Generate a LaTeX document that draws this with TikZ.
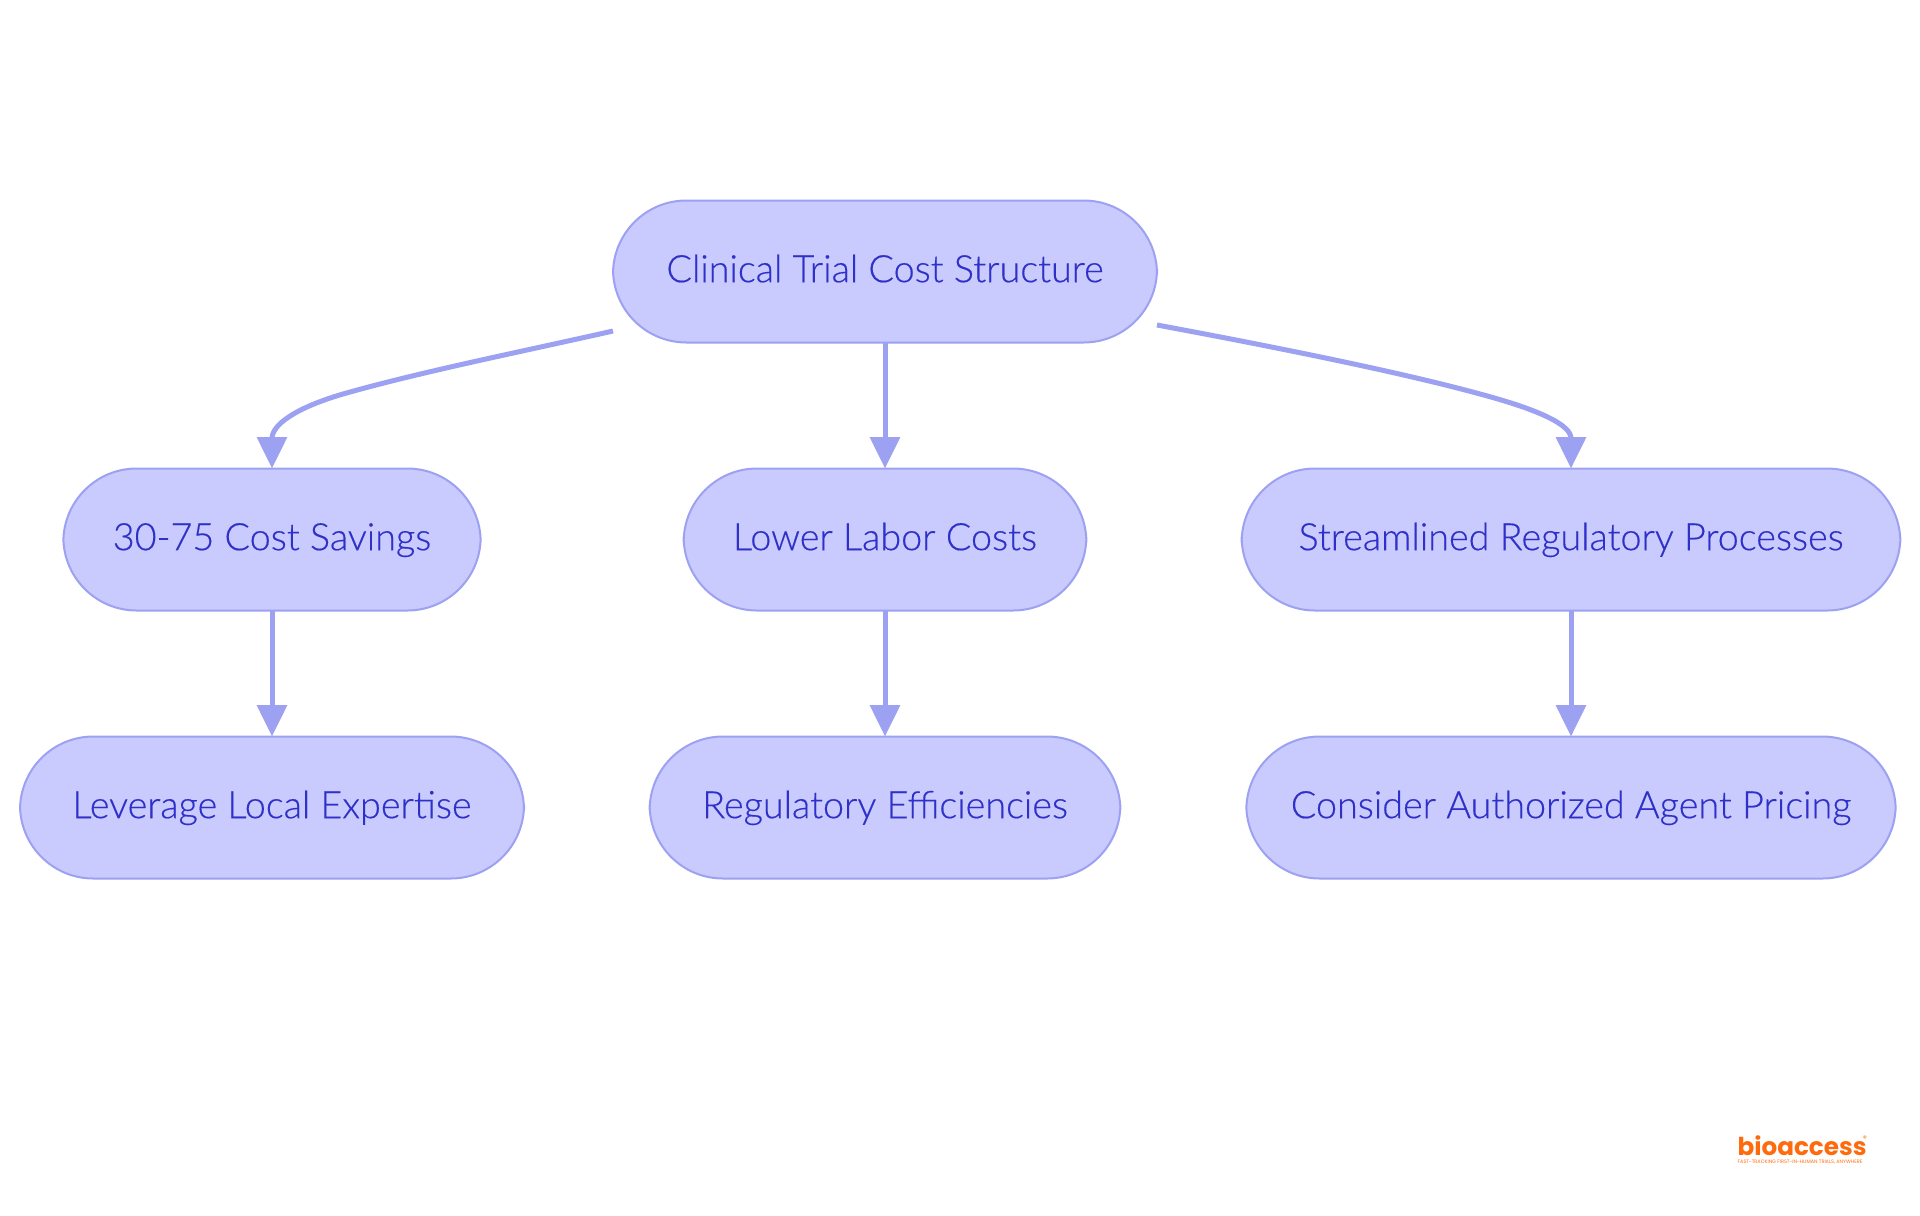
\documentclass[tikz,border=0pt]{standalone}
\usepackage{fontspec}
\setmainfont{Lato Light}[RawFeature={embolden=0.4}]
\newfontfamily\logofont{Poppins}
\usetikzlibrary{arrows.meta}
\definecolor{boxfill}{HTML}{C9CAFD}
\definecolor{boxline}{HTML}{9CA1F1}
\definecolor{boxtext}{HTML}{2E30C8}
\definecolor{logoorange}{HTML}{FF6A0D}
\tikzset{
  every picture/.style={line width=0.75pt},
  costbox/.style={draw=boxline, fill=boxfill, text=boxtext, line width=1.5pt, rounded corners=55pt,
    minimum height=106.5pt, inner sep=0pt, outer sep=0pt, text height=21pt, text depth=5pt, font=\fontsize{28.3}{32}\selectfont},
  costedge/.style={draw=boxline, line width=3.75pt, -{Triangle[length=23.5pt,width=22pt]}},
  logotext/.style={text=logoorange, inner sep=0pt}
}
\begin{document}
\begin{tikzpicture}[x=0.75pt, y=0.75pt, yscale=-1,xscale=1]

    \useasboundingbox (0,0) rectangle (1920,1215);

    \node [costbox, minimum width=408pt] (root) at (885,271.5) {Clinical Trial Cost Structure};

    \node [costbox, minimum width=313pt] (savings) at (272,539.5) {30-75 Cost Savings};
    \node [costbox, minimum width=302pt] (labor) at (885,539.5) {Lower Labor Costs};
    \node [costbox, minimum width=494pt] (streamlined) at (1571,539.5) {Streamlined Regulatory Processes};

    \node [costbox, minimum width=378pt] (expertise) at (272,807.5) {Leverage Local Expertise};
    \node [costbox, minimum width=353pt] (efficiencies) at (885,807.5) {Regulatory Efficiencies};
    \node [costbox, minimum width=487pt] (agent) at (1571,807.5) {Consider Authorized Agent Pricing};

    \coordinate (rootleft) at (613,331);
    \coordinate (rootright) at (1157,325);

    \draw [costedge] (rootleft) .. controls (520,352) and (420,372) .. (343,394)
                     .. controls (295,408) and (272,425) .. (savings.north);
    \draw [costedge] (root.south) -- (labor.north);
    \draw [costedge] (rootright) .. controls (1270,346) and (1400,372) .. (1480,394)
                     .. controls (1540,410) and (1571,425) .. (streamlined.north);

    \draw [costedge] (savings.south) -- (expertise.north);
    \draw [costedge] (labor.south) -- (efficiencies.north);
    \draw [costedge] (streamlined.south) -- (agent.north);

    \node [logotext, anchor=base west, font=\logofont\bfseries\fontsize{18.5}{20}\selectfont] (logo) at (1737,1155) {bioaccess};
    \node [logotext, font=\logofont\fontsize{6}{6}\selectfont] (logomark) at (1865,1139) {®};
    \node [logotext, font=\logofont\fontsize{3.7}{4}\selectfont] (tagline) at (1800,1162) {FAST-TRACKING FIRST-IN-HUMAN TRIALS, ANYWHERE};

\end{tikzpicture}
\end{document}
